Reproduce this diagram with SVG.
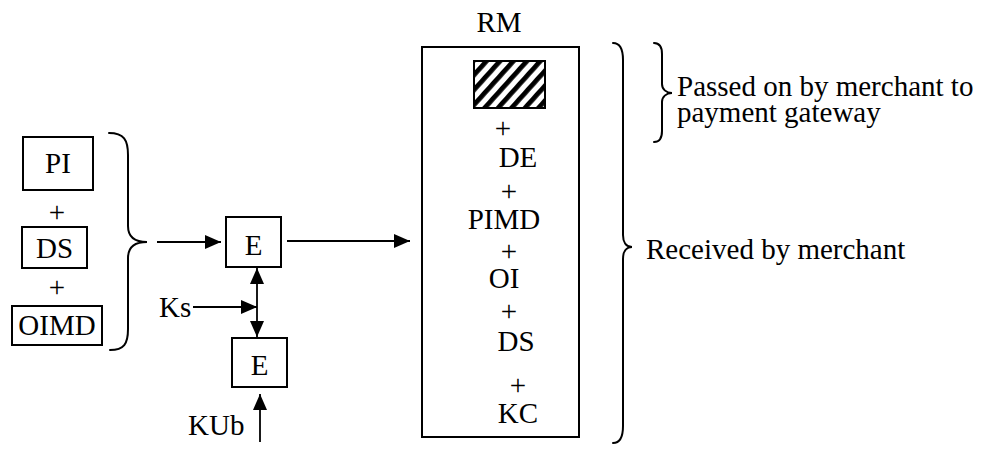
<svg xmlns="http://www.w3.org/2000/svg" width="990" height="449" viewBox="0 0 990 449">
  <style>
    .box { fill: #fff; stroke: #000; stroke-width: 2; }
    .t { font-family: "Liberation Serif", "Times New Roman", serif; font-size: 29px; fill: #000; }
    .c { text-anchor: middle; }
    .wire { fill: none; stroke: #000; stroke-width: 1.8; }
    .brace { fill: none; stroke: #000; stroke-width: 2; stroke-linecap: round; }
  </style>
  <defs>
    <marker id="arrow" markerUnits="userSpaceOnUse" markerWidth="16" markerHeight="14" refX="16" refY="7" orient="auto-start-reverse">
      <path d="M0,0 L16,7 L0,14 z" fill="#000"/>
    </marker>
    <pattern id="hatch" patternUnits="userSpaceOnUse" width="10" height="10" patternTransform="rotate(42)">
      <rect width="10" height="10" fill="#fff"/>
      <rect width="4.8" height="10" fill="#000"/>
    </pattern>
  </defs>

  <rect width="990" height="449" fill="#fff"/>

  <!-- input components -->
  <g id="pi">
    <rect class="box" x="23" y="137" width="70" height="53"/>
    <text class="t c" x="58" y="173">PI</text>
  </g>
  <text class="t c" x="57" y="222">+</text>
  <g id="ds-in">
    <rect class="box" x="22" y="227" width="65" height="41"/>
    <text class="t c" x="54.5" y="258">DS</text>
  </g>
  <text class="t c" x="57" y="297">+</text>
  <g id="oimd">
    <rect class="box" x="12" y="306" width="90" height="39"/>
    <text class="t c" x="57" y="335">OIMD</text>
  </g>
  <path class="brace" d="M109,133 C124,133 128,140 128,155 L128,226 C128,236 134,242 147,242 C134,242 128,248 128,258 L128,329 C128,344 124,350 110,350"/>

  <!-- encryption steps -->
  <g id="enc1">
    <rect class="box" x="226" y="217" width="55" height="50"/>
    <text class="t c" x="253.5" y="255">E</text>
  </g>
  <g id="enc2">
    <rect class="box" x="232" y="338" width="55" height="49"/>
    <text class="t c" x="259.5" y="375">E</text>
  </g>
  <text id="ks" class="t" x="159" y="317">Ks</text>
  <text id="kub" class="t" x="188" y="435">KUb</text>

  <!-- resulting message -->
  <g id="rm">
    <text class="t c" x="499" y="32">RM</text>
    <rect class="box" x="422" y="47" width="157" height="390"/>
    <rect x="474" y="61" width="71" height="47" fill="url(#hatch)" stroke="#000" stroke-width="2"/>
    <text class="t c" x="503" y="138">+</text>
    <text class="t c" x="518" y="167">DE</text>
    <text class="t c" x="509" y="201">+</text>
    <text class="t c" x="504" y="229">PIMD</text>
    <text class="t c" x="509" y="261">+</text>
    <text class="t c" x="504" y="288">OI</text>
    <text class="t c" x="509" y="321">+</text>
    <text class="t c" x="516" y="351">DS</text>
    <text class="t c" x="518" y="395">+</text>
    <text class="t c" x="518" y="423">KC</text>
  </g>

  <!-- annotations -->
  <g id="gateway-note">
    <path class="brace" d="M654,43 C659,43 662,47 662,54 L662,84 C662,89 666,93 672,93 C666,93 662,97 662,102 L662,131 C662,138 659,142 654,142"/>
    <text class="t" x="677" y="96">Passed on by merchant to</text>
    <text class="t" x="677" y="122">payment gateway</text>
  </g>
  <g id="merchant-note">
    <path class="brace" d="M613,43 C620,43 623,50 623,60 L623,235 C623,242 626,247 632,247 C626,247 623,252 623,259 L623,426 C623,436 620,443 613,443"/>
    <text class="t" x="646" y="259">Received by merchant</text>
  </g>

  <!-- connectors -->
  <g id="connectors">
    <line class="wire" x1="157" y1="242" x2="221" y2="242" marker-end="url(#arrow)"/>
    <line class="wire" x1="287" y1="241" x2="410" y2="241" marker-end="url(#arrow)"/>
    <line class="wire" x1="257" y1="268" x2="257" y2="337" marker-start="url(#arrow)" marker-end="url(#arrow)"/>
    <line class="wire" x1="193" y1="307" x2="257" y2="307" marker-end="url(#arrow)"/>
    <line class="wire" x1="260" y1="442" x2="260" y2="394" marker-end="url(#arrow)"/>
  </g>
</svg>
